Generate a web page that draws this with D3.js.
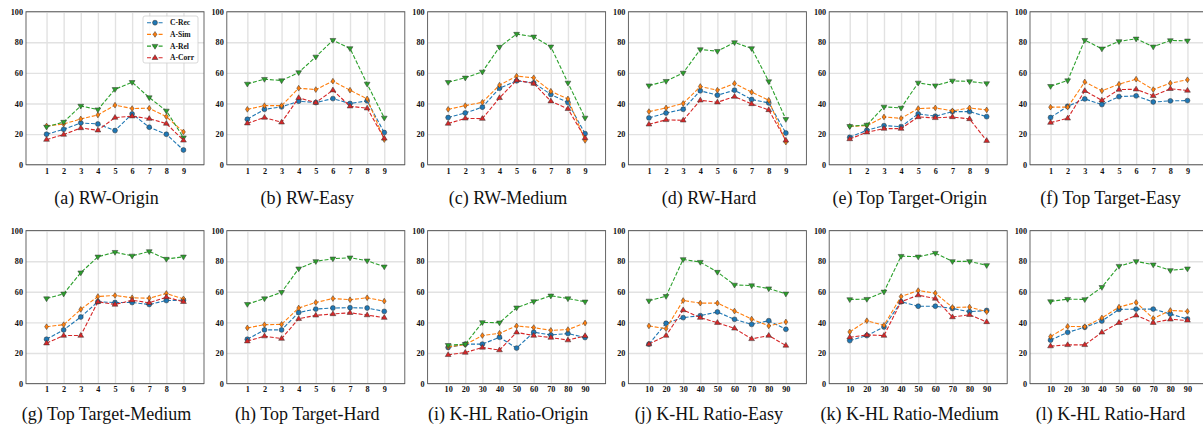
<!DOCTYPE html>
<html>
<head>
<meta charset="utf-8">
<script src="https://cdn.jsdelivr.net/npm/d3@7"></script>
<style>
  body { margin: 0; background: #fff; }
  svg { display: block; font-family: "Liberation Serif", "Times New Roman", serif; }
  .axis text { font-weight: bold; font-size: 8.2px; fill: #111; font-family: "Liberation Serif", "Times New Roman", serif; }
  .axis path { display: none; }
  .grid line { stroke: #e2e2e2; stroke-width: 1.4; }
  .grid path { display: none; }
  .caption { font-size: 18px; fill: #111; font-family: "Liberation Serif", "Times New Roman", serif; }
  .legend text { font-weight: bold; font-size: 7.6px; fill: #111; font-family: "Liberation Serif", "Times New Roman", serif; }
</style>
</head>
<body>
<script>
var width = 1203;
var height = 425;

var seriesNames = ['C-Rec', 'A-Sim', 'A-Rel', 'A-Corr'];
var seriesColors = ['#1f77b4', '#ff7f0e', '#2ca02c', '#d62728'];
var seriesMarkers = ['circle', 'thinDiamond', 'triangleDown', 'triangleUp'];

var captions = [
  '(a) RW-Origin', '(b) RW-Easy', '(c) RW-Medium', '(d) RW-Hard',
  '(e) Top Target-Origin', '(f) Top Target-Easy',
  '(g) Top Target-Medium', '(h) Top Target-Hard',
  '(i) K-HL Ratio-Origin', '(j) K-HL Ratio-Easy',
  '(k) K-HL Ratio-Medium', '(l) K-HL Ratio-Hard'
];
var stepTicks = ['1', '2', '3', '4', '5', '6', '7', '8', '9'];
var ratioTicks = ['10', '20', '30', '40', '50', '60', '70', '80', '90'];
var yTicks = [0, 20, 40, 60, 80, 100];

// one row per panel, (a) .. (l)
var cRec = [
  [19.9, 23.1, 27.3, 26.6, 22.3, 33.2, 24.5, 19.9, 9.6],
  [29.7, 36.2, 37.8, 41.5, 40.6, 43.2, 40.0, 41.7, 21.0],
  [30.8, 33.8, 37.6, 50.0, 54.8, 53.5, 45.9, 40.6, 20.3],
  [30.6, 33.8, 36.2, 48.3, 45.4, 48.7, 42.6, 40.4, 20.7],
  [17.9, 22.5, 25.5, 24.9, 33.2, 31.7, 34.7, 34.7, 31.4],
  [30.8, 38.2, 43.0, 39.3, 44.5, 45.0, 41.0, 41.7, 41.9],
  [29.0, 35.1, 43.5, 53.5, 53.0, 53.0, 51.7, 54.3, 54.5],
  [29.0, 35.1, 35.1, 46.5, 48.7, 49.4, 49.6, 49.4, 47.2],
  [23.6, 25.8, 25.8, 30.3, 23.2, 33.6, 31.8, 32.7, 30.1],
  [25.8, 39.4, 43.1, 44.4, 46.8, 42.0, 38.7, 41.1, 35.5],
  [28.1, 31.4, 37.0, 53.5, 50.6, 50.6, 49.1, 47.0, 47.8],
  [28.4, 33.5, 36.8, 40.9, 48.5, 48.7, 48.7, 45.5, 42.2]
];
var aSim = [
  [25.3, 26.6, 29.9, 32.5, 38.9, 36.7, 36.9, 31.4, 21.4],
  [36.2, 38.6, 38.6, 50.0, 49.1, 54.6, 48.7, 43.0, 16.4],
  [36.2, 38.6, 40.8, 52.0, 57.9, 56.8, 48.0, 43.0, 15.9],
  [34.7, 37.1, 40.0, 51.1, 48.7, 53.1, 47.4, 42.1, 14.8],
  [25.1, 25.5, 31.2, 30.3, 36.7, 37.1, 35.2, 37.1, 35.8],
  [37.6, 37.6, 54.1, 48.3, 52.6, 55.9, 49.1, 53.3, 55.5],
  [37.2, 38.5, 48.5, 56.9, 57.6, 56.1, 55.8, 58.9, 55.4],
  [36.4, 38.5, 38.7, 49.4, 53.0, 55.6, 54.8, 56.1, 53.9],
  [24.0, 25.5, 31.4, 32.9, 37.7, 36.6, 34.8, 35.3, 39.6],
  [37.7, 35.9, 54.3, 52.6, 52.6, 47.4, 42.2, 37.7, 40.3],
  [33.8, 41.1, 38.1, 56.9, 60.8, 59.1, 49.8, 50.0, 47.0],
  [30.7, 37.4, 37.2, 42.9, 50.0, 53.0, 42.6, 47.8, 47.2]
];
var aRel = [
  [24.7, 27.9, 38.4, 36.0, 49.3, 53.9, 43.9, 35.2, 17.7],
  [52.8, 55.9, 55.0, 60.3, 70.5, 81.4, 76.0, 52.8, 30.6],
  [53.9, 56.8, 60.7, 76.9, 85.4, 83.6, 77.1, 53.5, 30.6],
  [51.7, 54.6, 60.0, 75.3, 74.2, 79.9, 76.0, 54.4, 29.7],
  [25.1, 26.0, 37.8, 37.1, 53.5, 51.7, 54.8, 54.4, 53.1],
  [51.3, 55.0, 81.4, 75.8, 80.6, 82.3, 77.1, 81.2, 81.0],
  [55.6, 58.7, 72.5, 82.9, 85.9, 83.5, 86.4, 81.4, 82.9],
  [51.9, 55.6, 59.7, 75.1, 79.9, 81.6, 82.3, 80.3, 76.4],
  [25.1, 25.8, 40.0, 39.8, 49.6, 53.7, 57.4, 55.6, 53.5],
  [54.1, 57.1, 81.2, 79.4, 72.9, 64.5, 64.1, 62.1, 58.7],
  [55.0, 55.2, 60.0, 83.3, 82.9, 85.3, 79.9, 79.9, 77.3],
  [53.7, 55.2, 55.0, 63.0, 76.8, 79.9, 77.7, 74.0, 75.1]
];
var aCorr = [
  [16.4, 19.7, 24.0, 22.5, 30.8, 31.7, 30.1, 26.9, 15.9],
  [27.1, 30.8, 27.7, 43.7, 40.6, 48.7, 38.2, 36.9, 17.2],
  [26.9, 30.3, 30.1, 43.7, 55.2, 53.1, 41.5, 36.5, 17.5],
  [26.4, 29.3, 29.0, 42.1, 40.8, 44.5, 39.7, 35.8, 15.9],
  [16.8, 21.2, 23.6, 23.6, 31.2, 30.6, 31.2, 29.9, 15.7],
  [27.5, 30.3, 48.3, 42.1, 49.1, 49.3, 45.0, 49.6, 48.5],
  [26.4, 31.4, 31.4, 53.5, 51.7, 54.5, 52.8, 56.5, 53.5],
  [27.7, 31.0, 29.4, 42.4, 44.6, 45.5, 46.3, 44.8, 43.1],
  [18.8, 20.3, 23.6, 21.9, 33.5, 31.4, 30.1, 28.4, 31.2],
  [25.8, 31.4, 48.1, 43.1, 39.8, 36.1, 29.2, 31.4, 24.9],
  [30.3, 31.8, 31.4, 53.5, 57.8, 55.6, 43.5, 45.0, 40.3],
  [24.5, 25.3, 25.3, 33.5, 39.8, 44.6, 39.8, 42.0, 41.3]
];

(function() {
  var seriesData = [cRec, aSim, aRel, aCorr];
  var panelWidth = 178;
  var panelHeight = 153;
  var colStep = 200.8;
  var firstLeft = 26;
  var rowTops = [11.7, 230.6];

  var svg = d3.select('body')
    .append('svg')
    .attr('width', width)
    .attr('height', height);

  // marker shapes, roughly like matplotlib 'o', 'd', 'v', '^'
  function markerPath(kind) {
    if (kind === 'circle') return d3.symbol(d3.symbolCircle, 19)();
    if (kind === 'thinDiamond') return 'M0,-2.9L1.9,0L0,2.9L-1.9,0Z';
    if (kind === 'triangleDown') return 'M-2.9,-1.7L2.9,-1.7L0,3.1Z';
    return 'M-2.9,1.7L2.9,1.7L0,-3.1Z';
  }

  function drawPanel(p) {
    var row = Math.floor(p / 6);
    var col = p % 6;
    var left = firstLeft + col * colStep;
    var top = rowTops[row];
    var labels = row === 0 || p === 6 || p === 7 ? stepTicks : ratioTicks;

    var xScale = d3.scaleLinear().domain([-0.2, 10.2]).range([0, panelWidth]);
    var yScale = d3.scaleLinear().domain([0, 100]).range([panelHeight, 0]);

    var g = svg.append('g').attr('transform', `translate(${left}, ${top})`);

    // grid
    g.append('g')
      .attr('class', 'grid')
      .call(d3.axisBottom(xScale).tickValues(d3.range(1, 10)).tickSize(panelHeight).tickFormat(''));
    g.append('g')
      .attr('class', 'grid')
      .call(d3.axisLeft(yScale).tickValues(yTicks).tickSize(-panelWidth).tickFormat(''));

    // axes labels
    g.append('g')
      .attr('class', 'axis')
      .attr('transform', `translate(0, ${panelHeight})`)
      .call(d3.axisBottom(xScale)
        .tickValues(d3.range(1, 10))
        .tickFormat((d, i) => labels[i])
        .tickSize(0)
        .tickPadding(3));
    g.append('g')
      .attr('class', 'axis')
      .call(d3.axisLeft(yScale).tickValues(yTicks).tickSize(0).tickPadding(3));

    var line = d3.line()
      .x((d, i) => xScale(i + 1))
      .y(d => yScale(d));

    seriesData.forEach(function(series, s) {
      var values = series[p];
      g.append('path')
        .datum(values)
        .attr('d', line)
        .attr('fill', 'none')
        .attr('stroke', seriesColors[s])
        .attr('stroke-width', 1.1)
        .attr('stroke-dasharray', '4,1.8');

      g.selectAll(null)
        .data(values)
        .enter()
        .append('path')
        .attr('d', markerPath(seriesMarkers[s]))
        .attr('transform', (d, i) => `translate(${xScale(i + 1)}, ${yScale(d)})`)
        .attr('fill', seriesColors[s])
        .attr('stroke', '#333')
        .attr('stroke-width', 0.5);
    });

    // frame
    g.append('rect')
      .attr('width', panelWidth)
      .attr('height', panelHeight)
      .attr('fill', 'none')
      .attr('stroke', '#555')
      .attr('stroke-width', 0.9);

    svg.append('text')
      .attr('class', 'caption')
      .attr('x', left + panelWidth / 2 - 8.5)
      .attr('y', row === 0 ? 204 : 420)
      .attr('text-anchor', 'middle')
      .text(captions[p]);

    if (p === 0) drawLegend(g);
  }

  function drawLegend(g) {
    var legend = g.append('g').attr('class', 'legend');
    legend.append('rect')
      .attr('x', 117)
      .attr('y', 4.3)
      .attr('width', 55)
      .attr('height', 47)
      .attr('rx', 2)
      .attr('fill', '#fff')
      .attr('fill-opacity', 0.85)
      .attr('stroke', '#cfcfcf')
      .attr('stroke-width', 0.8);

    seriesNames.forEach(function(name, s) {
      var y = 11 + s * 11.7;
      legend.append('line')
        .attr('x1', 121)
        .attr('x2', 137)
        .attr('y1', y)
        .attr('y2', y)
        .attr('stroke', seriesColors[s])
        .attr('stroke-width', 1.1)
        .attr('stroke-dasharray', '4,1.8');
      legend.append('path')
        .attr('d', markerPath(seriesMarkers[s]))
        .attr('transform', `translate(129, ${y})`)
        .attr('fill', seriesColors[s])
        .attr('stroke', '#333')
        .attr('stroke-width', 0.5);
      legend.append('text')
        .attr('x', 144)
        .attr('y', y)
        .attr('dy', '0.33em')
        .text(name);
    });
  }

  d3.range(12).forEach(drawPanel);
})();
</script>
</body>
</html>
